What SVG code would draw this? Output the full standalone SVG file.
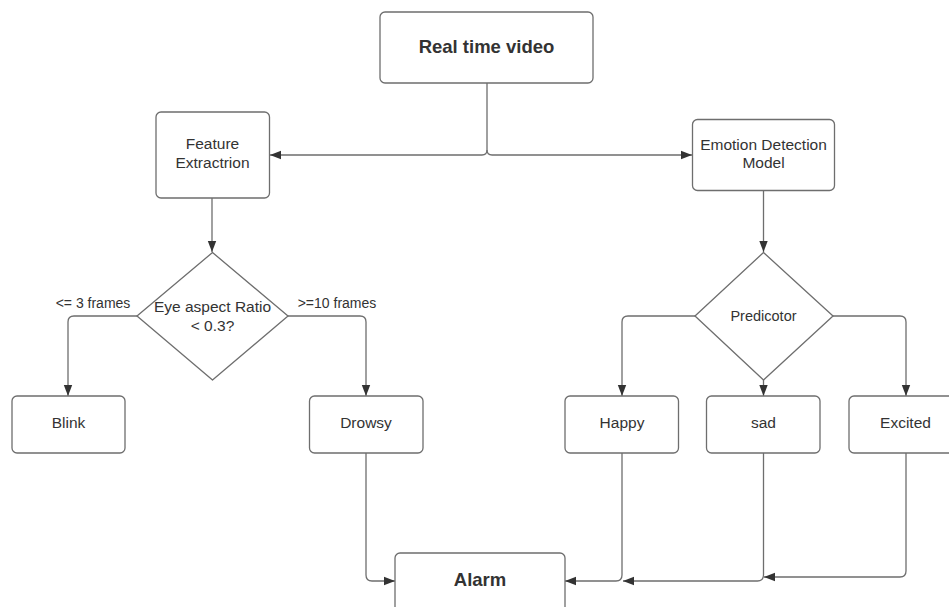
<svg xmlns="http://www.w3.org/2000/svg" width="949" height="607" viewBox="0 0 949 607">
<style>
.box{fill:#fff;stroke:#6e6e6e;stroke-width:1.3}
.t{font-family:"Liberation Sans",Arial,sans-serif;font-size:15.5px;fill:#333;text-anchor:middle}
.b{font-weight:bold;font-size:18.5px}
.lbl{font-size:14px}
.c{fill:none;stroke:#6e6e6e;stroke-width:1.3}
</style>
<defs>
<marker id="ah" markerUnits="userSpaceOnUse" markerWidth="12" markerHeight="10" refX="11" refY="5" orient="auto">
<path d="M0,0.8 L11,5 L0,9.2 Z" fill="#333"/>
</marker>
</defs>
<rect width="949" height="607" fill="#fff"/>
<g id="connectors">
<path class="c" d="M487,83 V150 Q487,155 482,155 H270" marker-end="url(#ah)"/>
<path class="c" d="M487,150 Q487,155 492,155 H692" marker-end="url(#ah)"/>
<path class="c" d="M212,198 V252" marker-end="url(#ah)"/>
<path class="c" d="M137,316 H74 Q68,316 68,322 V396" marker-end="url(#ah)"/>
<path class="c" d="M288,316 H360 Q366,316 366,322 V396" marker-end="url(#ah)"/>
<path class="c" d="M763.5,191 V252" stroke="#9a9a9a" marker-end="url(#ah)"/>
<path class="c" d="M695,316 H628 Q622,316 622,322 V396" marker-end="url(#ah)"/>
<path class="c" d="M763.5,380 V396" marker-end="url(#ah)"/>
<path class="c" d="M833,316 H900 Q906,316 906,322 V396" marker-end="url(#ah)"/>
<path class="c" d="M366,453 V575 Q366,581 372,581 H395" marker-end="url(#ah)"/>
<path class="c" d="M622,453 V575 Q622,581 616,581 H565" marker-end="url(#ah)"/>
<path class="c" d="M763.5,453 V575 Q763.5,581 757.5,581 H623" marker-end="url(#ah)"/>
<path class="c" d="M906,453 V571 Q906,577 900,577 H764" marker-end="url(#ah)"/>
</g>
<g id="real-time-video">
<rect class="box" x="380" y="12" width="213" height="71" rx="5"/>
<text class="t b" x="486.5" y="52.5">Real time video</text>
</g>
<g id="feature-extraction">
<rect class="box" x="156" y="112" width="113.5" height="86" rx="5"/>
<text class="t" x="212.5" y="149">Feature</text>
<text class="t" x="212.5" y="168">Extractrion</text>
</g>
<g id="emotion-detection">
<rect class="box" x="692.5" y="119.5" width="142" height="71" rx="5"/>
<text class="t" x="763.5" y="149.5">Emotion Detection</text>
<text class="t" x="763.5" y="168">Model</text>
</g>
<g id="eye-aspect">
<path class="box" d="M212.5,252.5 L288,316 L212.5,380 L137,316 Z" stroke-linejoin="round"/>
<text class="t" x="212.5" y="311.5">Eye aspect Ratio</text>
<text class="t" x="212.5" y="330.5">&lt; 0.3?</text>
</g>
<g id="labels">
<text class="t lbl" x="93" y="308">&lt;= 3 frames</text>
<text class="t lbl" x="337" y="308">&gt;=10 frames</text>
</g>
<g id="predictor">
<path class="box" d="M763.5,252.5 L833,316 L763.5,380 L695,316 Z" stroke-linejoin="round"/>
<text class="t" x="763.5" y="320.5" style="font-size:14.5px">Predicotor</text>
</g>
<g id="blink">
<rect class="box" x="12" y="396" width="113" height="57" rx="5"/>
<text class="t" x="68.5" y="428">Blink</text>
</g>
<g id="drowsy">
<rect class="box" x="309.5" y="396" width="113.5" height="57" rx="5"/>
<text class="t" x="366" y="428">Drowsy</text>
</g>
<g id="happy">
<rect class="box" x="565" y="396" width="113.5" height="57" rx="5"/>
<text class="t" x="622" y="428">Happy</text>
</g>
<g id="sad">
<rect class="box" x="706.5" y="396" width="113.5" height="57" rx="5"/>
<text class="t" x="763.5" y="428">sad</text>
</g>
<g id="excited">
<rect class="box" x="849" y="396" width="113.5" height="57" rx="5"/>
<text class="t" x="905.5" y="428">Excited</text>
</g>
<g id="alarm">
<rect class="box" x="395" y="553" width="170" height="60" rx="5"/>
<text class="t b" x="480" y="585.5">Alarm</text>
</g>
</svg>
